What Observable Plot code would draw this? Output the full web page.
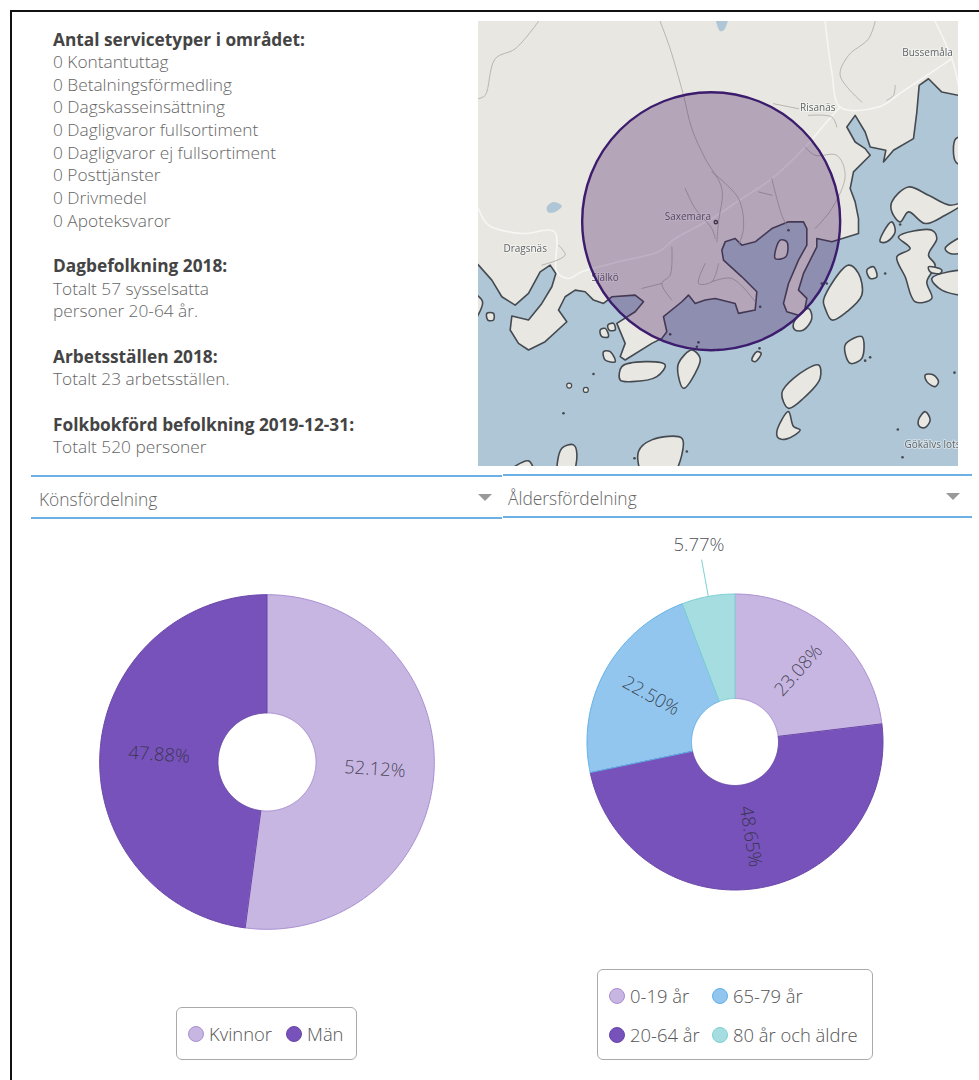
<!DOCTYPE html>
<html lang="sv">
<head>
<meta charset="utf-8">
<script src="https://cdn.jsdelivr.net/npm/d3@7"></script>
<script src="https://cdn.jsdelivr.net/npm/@observablehq/plot@0.6"></script>
<style>
html,body{margin:0;padding:0;background:#fff;width:979px;height:1080px;overflow:hidden;font-family:"Open Sans",sans-serif;}
#frame{position:absolute;left:10px;top:10px;right:0;bottom:0;border-left:2px solid #111;border-top:2px solid #111;}
.abs{position:absolute;}
.info{left:53px;top:28.5px;font-size:17.3px;line-height:22.65px;color:#666;font-weight:300;white-space:nowrap;}
.info b{font-weight:700;color:#444;}
.select{border-top:2px solid #6cb0e6;border-bottom:2px solid #6cb0e6;height:40px;box-sizing:content-box;color:#666;font-size:17.4px;font-weight:300;line-height:45px;}
.select span{position:absolute;}
.arrow{position:absolute;width:0;height:0;border-left:7px solid transparent;border-right:7px solid transparent;border-top:7px solid #999;}
.legend{position:absolute;border:1.5px solid #aaa;border-radius:6px;box-sizing:border-box;background:#fff;}
.legend i{position:absolute;width:16px;height:16px;border-radius:50%;box-sizing:border-box;border:1.5px solid;}
.legend span{position:absolute;font-size:18.4px;font-weight:300;color:#555;line-height:22px;white-space:nowrap;}
svg{display:block;}
</style>
</head>
<body>
<div id="frame"></div>
<div id="info" class="abs info"></div>
<div id="map" class="abs" style="left:478px;top:21px;filter:blur(0.45px)"></div>
<div class="abs select" style="left:31px;top:475px;width:471px"><span style="left:8px;top:0">Könsfördelning</span><div class="arrow" style="left:447px;top:17px"></div></div>
<div class="abs select" style="left:503px;top:474px;width:469px"><span style="left:5px;top:0">Åldersfördelning</span><div class="arrow" style="left:443px;top:17px"></div></div>
<div id="pie1" class="abs"></div>
<div id="pie2" class="abs"></div>
<div id="leg1" class="legend" style="left:176px;top:1007px;width:181px;height:53px"></div>
<div id="leg2" class="legend" style="left:597px;top:969px;width:276px;height:91px"></div>
<script>
// ---------- text panel ----------
const serviceTitle = "Antal servicetyper i området:";
const serviceTypes = ["Kontantuttag","Betalningsförmedling","Dagskasseinsättning","Dagligvaror fullsortiment","Dagligvaror ej fullsortiment","Posttjänster","Drivmedel","Apoteksvaror"];
const serviceCounts = [0,0,0,0,0,0,0,0];

// ---------- donut data ----------
const genderNames = ["Kvinnor","Män"];
const genderValues = [52.12,47.88];
const genderFill = ["#c7b6e2","#7652ba"];
const genderStroke = ["#a98fd2","#6a47a8"];

const ageNames = ["0-19 år","20-64 år","65-79 år","80 år och äldre"];
const ageValues = [23.08,48.65,22.50,5.77];
const ageFill = ["#c7b6e2","#7652ba","#92c6ef","#a6dde0"];
const ageStroke = ["#a98fd2","#6a47a8","#5fb2e6","#7cd0d4"];

// ---------- map outlines (map units) ----------
const mainland = [[-30,-30],[1470,-30],[1470,245],[1440,240],[1390,230],[1350,190],[1322,210],[1315,290],[1305,370],[1245,405],[1215,440],[1222,405],[1175,395],[1160,350],[1130,300],[1105,335],[1130,380],[1160,400],[1175,420],[1125,470],[1115,520],[1130,560],[1140,610],[1140,655],[1060,680],[1015,670],[1015,695],[975,775],[960,825],[985,850],[975,905],[925,890],[915,865],[930,805],[960,735],[985,690],[985,640],[975,620],[930,620],[880,640],[830,680],[790,690],[770,670],[740,680],[730,705],[735,735],[790,785],[835,830],[830,885],[780,895],[770,865],[710,850],[680,855],[650,865],[630,840],[610,860],[555,905],[565,950],[550,970],[520,985],[440,1035],[425,1025],[440,985],[415,925],[470,890],[495,860],[470,840],[400,845],[375,865],[345,855],[320,830],[290,825],[260,845],[240,885],[265,920],[200,980],[150,1005],[120,985],[95,945],[100,903],[150,915],[190,865],[220,815],[232,775],[215,750],[185,770],[150,835],[110,870],[70,845],[40,795],[0,750],[-30,720]];
const islands = [
  [[1240,560],[1290,515],[1350,540],[1415,570],[1470,555],[1400,600],[1340,625],[1290,590],[1265,620],[1240,590]],
  [[1215,650],[1240,620],[1250,650],[1225,680],[1205,680]],
  [[1260,665],[1360,645],[1375,670],[1350,720],[1370,750],[1345,800],[1360,850],[1310,860],[1280,785],[1255,725],[1295,700]],
  [[1400,700],[1470,660],[1470,705],[1415,715]],
  [[1360,790],[1470,770],[1470,835],[1390,825]],
  [[1350,755],[1390,765],[1385,775],[1355,770]],
  [[1035,855],[1110,750],[1140,775],[1150,840],[1105,890],[1060,915],[1040,880]],
  [[1165,765],[1185,755],[1195,785],[1175,790]],
  [[945,925],[990,880],[1000,910],[975,945],[950,945]],
  [[905,675],[925,680],[922,725],[890,730]],
  [[1100,990],[1150,965],[1150,1030],[1115,1045]],
  [[910,1135],[945,1090],[1020,1050],[1025,1090],[975,1150],[930,1180]],
  [[895,1250],[930,1190],[945,1235],[965,1245],[925,1272],[900,1270]],
  [[600,1045],[640,1005],[665,1030],[650,1075],[615,1120],[600,1085]],
  [[430,1055],[500,1040],[560,1050],[535,1085],[460,1100],[425,1095]],
  [[480,1310],[520,1275],[610,1270],[610,1320],[580,1380],[495,1380]],
  [[240,1380],[250,1300],[285,1290],[295,1315],[280,1380]],
  [[80,1380],[150,1338],[165,1380]],
  [[365,945],[380,940],[390,965],[370,965]],
  [[388,930],[405,925],[410,945],[392,945]],
  [[375,1010],[395,1010],[410,1040],[380,1035]],
  [[1340,1080],[1365,1080],[1380,1100],[1370,1115],[1345,1100]],
  [[1320,1215],[1340,1190],[1355,1215],[1340,1238],[1323,1235]],
  [[820,1035],[835,1010],[848,1015],[830,1040]],
  [[-20,835],[12,860],[-20,925]],
  [[25,895],[45,895],[45,915],[28,915]],
  [[1432,370],[1470,370],[1470,450],[1432,440]]
];
const lakes = [
  [[712,-10],[748,-10],[738,42],[725,47]],
  [[205,575],[225,560],[250,572],[225,592],[208,590]]
];
const whiteRoads = [
  [[1040,18],[1060,170],[1085,275],[1200,275],[1270,230],[1330,190],[1420,130]],
  [[1370,18],[1420,130],[1440,210]],
  [[1085,275],[1040,325],[980,395],[880,490],[790,550],[700,610],[590,670],[540,710],[440,735],[310,770],[270,790],[235,770],[228,650],[130,655],[30,630],[0,580]]
];
const greyRoads = [
  [[545,18],[575,100],[615,240],[640,340],[680,430],[730,520],[720,620],[715,680]],
  [[180,18],[110,100],[50,130],[20,240],[0,250]],
  [[1190,18],[1170,70],[1110,120],[1085,180],[1150,260]],
  [[1250,210],[1245,240],[1225,255]],
  [[885,265],[960,280]],
  [[990,300],[1060,305],[1075,335]],
  [[980,395],[1010,420],[1075,420],[1100,480],[1060,580],[1010,640]],
  [[880,490],[910,600],[930,640]],
  [[700,470],[780,550],[795,640],[780,690]],
  [[620,520],[650,580],[700,640],[710,670]],
  [[840,530],[880,540]],
  [[580,695],[575,780],[550,805],[580,855]],
  [[680,745],[660,805],[700,800],[720,745]],
  [[490,820],[550,805]],
  [[240,690],[260,720],[190,750]],
  [[700,800],[760,790],[830,860]]
];
const waterDots = [[345,1077],[1030,805],[845,875],[575,958],[660,982],[655,995],[1160,1037],[1175,1027],[1220,775],[1265,628],[1428,1073],[1258,1244],[1272,1327],[625,1310],[468,1330],[255,1195],[1045,805],[930,645],[843,1000],[720,1005]];
const waterRings = [[272,1112],[322,1125]];
const circleCentre = [[698,618]];
const placeNames = ["Bussemåla","Risanäs","Saxemara","Dragsnäs","Själkö","Gökälvs lots"];
const placeX = [1347,1018,628,140,380,1362];
const placeY = [112,278,604,702,787,1290];
const saxemaraDot = [[712,621]];

// ---------- text panel ----------
document.getElementById("info").innerHTML =
  `<b>${serviceTitle}</b><br>` +
  serviceTypes.map((t,i)=>`${serviceCounts[i]} ${t}`).join("<br>") +
  `<br><br><b>Dagbefolkning 2018:</b><br>Totalt 57 sysselsatta<br>personer 20-64 år.` +
  `<br><br><b>Arbetsställen 2018:</b><br>Totalt 23 arbetsställen.` +
  `<br><br><b>Folkbokförd befolkning 2019-12-31:</b><br>Totalt 520 personer`;

// ---------- map ----------
const toRows = (shapes)=>shapes.flatMap((s,k)=>s.map(p=>({x:p[0],y:p[1],k})));
const land="#e8e7e2", sea="#aec6d6", coast="#454a50";
document.getElementById("map").append(Plot.plot({
  width:480,height:445,margin:0,
  x:{domain:[0,1440],axis:null},
  y:{domain:[18,1355],reverse:true,axis:null},
  style:{background:sea},
  marks:[
    Plot.line(toRows([mainland]),{x:"x",y:"y",z:"k",curve:"linear-closed",fill:land,stroke:coast,strokeWidth:1.6}),
    Plot.line(toRows(islands),{x:"x",y:"y",z:"k",curve:"catmull-rom-closed",fill:land,stroke:coast,strokeWidth:1.6}),
    Plot.line(toRows(lakes),{x:"x",y:"y",z:"k",curve:"catmull-rom-closed",fill:sea}),
    Plot.line(toRows(whiteRoads),{x:"x",y:"y",z:"k",curve:"catmull-rom",stroke:"#f6f6f3",strokeWidth:1.6}),
    Plot.line(toRows(greyRoads),{x:"x",y:"y",z:"k",curve:"catmull-rom",stroke:"#a9a8a4",strokeWidth:0.8}),
    Plot.dot(waterDots,{x:d=>d[0],y:d=>d[1],r:1.3,fill:coast}),
    Plot.dot(waterRings,{x:d=>d[0],y:d=>d[1],r:2.5,fill:land,stroke:coast,strokeWidth:1.2}),
    Plot.text(placeNames,{x:(d,i)=>placeX[i],y:(d,i)=>placeY[i],text:d=>d,fontSize:10,fill:"#5f6466",fontFamily:"Open Sans",stroke:"#fff",strokeOpacity:0.45,strokeWidth:2}),
    Plot.dot(saxemaraDot,{x:d=>d[0],y:d=>d[1],r:1.6,stroke:"#444",fill:"none"}),
    Plot.dot(circleCentre,{x:d=>d[0],y:d=>d[1],r:129,fill:"#44125e",fillOpacity:0.31,stroke:"#3c1c6c",strokeWidth:2.4})
  ]
}));

// ---------- donuts ----------
function donut({id,names,values,fills,strokes,outerPx,innerPx,cx,cy,span,outside}){
  const size = Math.round(outerPx*span*2);
  const inner = innerPx/outerPx;
  const total = d3.sum(values);
  const rows=[], labels=[], leaders=[];
  let acc=0;
  const pt=(r,deg)=>({x:r*Math.sin(deg*Math.PI/180),y:r*Math.cos(deg*Math.PI/180)});
  values.forEach((v,i)=>{
    const a0=acc/total*360, a1=(acc+v)/total*360, mid=(a0+a1)/2; acc+=v;
    const n=Math.max(2,Math.ceil(a1-a0));
    for(let j=0;j<=n;j++) rows.push({...pt(1,a0+(a1-a0)*j/n),name:names[i],line:strokes[i]});
    for(let j=n;j>=0;j--) rows.push({...pt(inner,a0+(a1-a0)*j/n),name:names[i],line:strokes[i]});
    const label=v.toFixed(2)+"%";
    if(outside===i){
      leaders.push({...pt(1,mid),line:strokes[i],k:i},{...pt(1.25,mid),line:strokes[i],k:i});
      labels.push({...pt(1.35,mid),label,rot:0});
    } else {
      labels.push({...pt((1+inner)/2,mid),label,rot:mid<180?mid-90:mid-270});
    }
  });
  const svg=Plot.plot({
    width:size,height:size,margin:0,
    x:{domain:[-span,span],axis:null},
    y:{domain:[-span,span],axis:null},
    color:{domain:names,range:fills},
    marks:[
      Plot.line(rows,{x:"x",y:"y",z:"name",fill:"name",stroke:{value:"line",scale:null},strokeWidth:1,curve:"linear-closed"}),
      Plot.line(leaders,{x:"x",y:"y",z:"k",stroke:{value:"line",scale:null},strokeWidth:1}),
      ...labels.map(l=>Plot.text([l],{x:"x",y:"y",text:"label",rotate:l.rot,fontSize:18.5,fontFamily:"Open Sans",fontWeight:300,fill:"#2f2f3a",fillOpacity:0.85}))
    ]
  });
  const el=document.getElementById(id);
  el.style.left=(cx-size/2)+"px"; el.style.top=(cy-size/2)+"px";
  el.append(svg);
}
donut({id:"pie1",names:genderNames,values:genderValues,fills:genderFill,strokes:genderStroke,outerPx:167.2,innerPx:49,cx:266.2,cy:761.3,span:1.3});
donut({id:"pie2",names:ageNames,values:ageValues,fills:ageFill,strokes:ageStroke,outerPx:148,innerPx:43.5,cx:734.6,cy:741.5,span:1.49,outside:3});

// ---------- legends ----------
function legend(id,names,fills,strokes,spots){
  const el=document.getElementById(id);
  names.forEach((n,i)=>{
    const [x,y]=spots[i];
    el.insertAdjacentHTML("beforeend",`<i style="left:${x}px;top:${y}px;background:${fills[i]};border-color:${strokes[i]}"></i><span style="left:${x+21}px;top:${y-3}px">${n}</span>`);
  });
}
legend("leg1",genderNames,genderFill,genderStroke,[[11,17.5],[109,17.5]]);
legend("leg2",ageNames,ageFill,ageStroke,[[11,17.5],[11,56.5],[114,17.5],[114,56.5]]);
</script>
</body>
</html>
